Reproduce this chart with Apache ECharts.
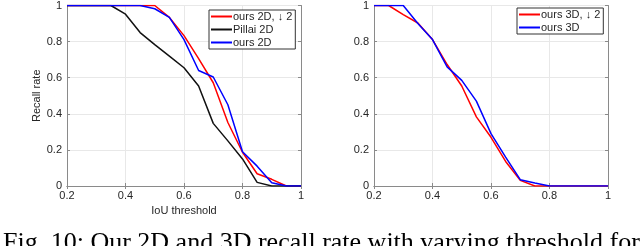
<!DOCTYPE html>
<html>
<head>
<meta charset="utf-8">
<script src="https://cdn.jsdelivr.net/npm/echarts@6/dist/echarts.min.js"></script>
<style>html,body{margin:0;padding:0;background:#fff}#c{width:640px;height:246px}</style>
</head>
<body>
<div id="c"></div>
<script>
var thresholds = [0.2,0.25,0.3,0.35,0.4,0.45,0.5,0.55,0.6,0.65,0.7,0.75,0.8,0.85,0.9,0.95,1.0];
var ours2Dd2 = [1,1,1,1,1,1,1,0.934,0.833,0.706,0.572,0.352,0.187,0.068,0.037,0,0];
var pillai2D = [1,1,1,1,0.952,0.85,0.783,0.72,0.655,0.554,0.347,0.25,0.15,0.02,0,0,0];
var ours2D = [1,1,1,1,1,1,0.982,0.934,0.811,0.64,0.604,0.45,0.19,0.11,0.018,0,0];
var ours3Dd2 = [1,1,0.949,0.903,0.811,0.673,0.554,0.383,0.27,0.136,0.031,0,0,0,0,0,0];
var ours3D = [1,1,1,0.9,0.811,0.66,0.585,0.47,0.29,0.16,0.035,0.017,0,0,0,0,0];
var xTicks = [0.2,0.4,0.6,0.8,1];
var yTicks = [0,0.2,0.4,0.6,0.8,1];
var caption = "Fig. 10: Our 2D and 3D recall rate with varying threshold for";

function pairs(ys){ return thresholds.map(function(x,i){ return [x, ys[i]]; }); }
function fmt(v){ return String(Math.round(v*10)/10); }

var axisCol = '#8a8a8a', txtCol = '#262626', gridCol = '#e8e8e8';
function xAx(gi, name, pos){
  var bottom = pos === 'bottom';
  return {type:'value', gridIndex:gi, position:pos, min:0.2, max:1, interval:0.2,
    axisLine:{show:true, lineStyle:{color:axisCol, width:1}},
    axisTick:{show:true, inside:true, length:3, lineStyle:{color:axisCol}},
    axisLabel:{show:bottom, color:txtCol, fontSize:11, fontFamily:'Liberation Sans', margin:4, formatter:fmt},
    splitLine:{show:bottom, lineStyle:{color:gridCol, width:1}},
    name: bottom ? name : '', nameLocation:'middle', nameGap:19,
    nameTextStyle:{color:txtCol, fontSize:11, fontFamily:'Liberation Sans'}};
}
function yAx(gi, name, pos){
  var left = pos === 'left';
  return {type:'value', gridIndex:gi, position:pos, min:0, max:1, interval:0.2,
    axisLine:{show:true, lineStyle:{color:axisCol, width:1}},
    axisTick:{show:true, inside:true, length:3, lineStyle:{color:axisCol}},
    axisLabel:{show:left, color:txtCol, fontSize:11, fontFamily:'Liberation Sans', margin:5, formatter:fmt},
    splitLine:{show:left, lineStyle:{color:gridCol, width:1}},
    name: left ? name : '', nameLocation:'middle', nameGap:21,
    nameTextStyle:{color:txtCol, fontSize:11, fontFamily:'Liberation Sans'}};
}
function ln(name, data, color, xi, yi){
  return {type:'line', name:name, data:pairs(data), xAxisIndex:xi, yAxisIndex:yi,
    symbol:'none', lineStyle:{color:color, width:1.5}, itemStyle:{color:color}, z:3, animation:false};
}

var chart = echarts.init(document.getElementById('c'), null, {renderer:'canvas'});
chart.setOption({
  animation:false,
  grid:[{left:67, top:4, width:234, height:182}, {left:374, top:4, width:234, height:182}],
  xAxis:[xAx(0,'IoU threshold','bottom'), xAx(0,'','top'), xAx(1,'','bottom'), xAx(1,'','top')],
  yAxis:[yAx(0,'Recall rate','left'), yAx(0,'','right'), yAx(1,'','left'), yAx(1,'','right')],
  legend:[
    {data:['ours 2D, \u2193 2','Pillai 2D','ours 2D'], orient:'vertical', left:209, top:10,
     icon:'rect', itemWidth:21, itemHeight:2, itemGap:2, padding:[1,3,1,2],
     borderColor:'#333', borderWidth:1, backgroundColor:'#fff',
     textStyle:{color:txtCol, fontSize:11, fontFamily:'Liberation Sans', padding:[0,0,0,-4]}},
    {data:['ours 3D, \u2193 2','ours 3D'], orient:'vertical', left:517, top:8,
     icon:'rect', itemWidth:21, itemHeight:2, itemGap:2, padding:[1,3,1,2],
     borderColor:'#333', borderWidth:1, backgroundColor:'#fff',
     textStyle:{color:txtCol, fontSize:11, fontFamily:'Liberation Sans', padding:[0,0,0,-4]}}
  ],
  series:[
    ln('ours 2D, \u2193 2', ours2Dd2, '#ff0000', 0, 0),
    ln('Pillai 2D', pillai2D, '#111111', 0, 0),
    ln('ours 2D', ours2D, '#0000ff', 0, 0),
    ln('ours 3D, \u2193 2', ours3Dd2, '#ff0000', 2, 2),
    ln('ours 3D', ours3D, '#0000ff', 2, 2)
  ],
  graphic:[{type:'text', left:3, top:230, style:{text:caption, fill:'#000', font:'26px "Liberation Serif"'}}]
});
</script>
</body>
</html>
